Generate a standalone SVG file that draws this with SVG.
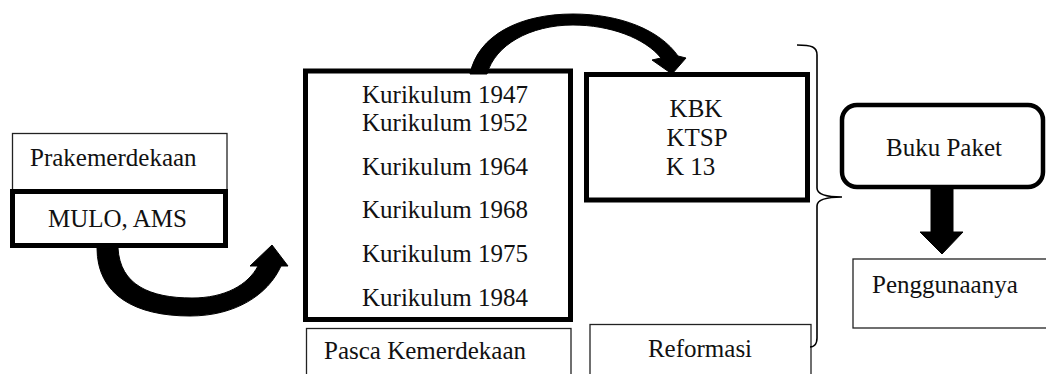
<svg xmlns="http://www.w3.org/2000/svg" width="1046" height="374" viewBox="0 0 1046 374">
<style>
text{font-family:"Liberation Serif","Times New Roman",serif;font-size:25px;fill:#111}
.thin{fill:#fff;stroke:#222;stroke-width:1.3}
.thick{fill:#fff;stroke:#000;stroke-width:5}
.arrow{fill:#000;stroke:#000;stroke-width:1;stroke-linejoin:round}
.mid{text-anchor:middle}
</style>
<rect width="1046" height="374" fill="#fff"/>
<g id="prakemerdekaan">
<rect class="thin" x="12.5" y="133.5" width="214.5" height="58"/>
<text x="30" y="166">Prakemerdekaan</text>
</g>
<g id="mulo">
<rect class="thick" x="12.5" y="191.5" width="213" height="54"/>
<text x="48" y="227">MULO, AMS</text>
</g>
<g id="kurikulum">
<rect class="thick" x="305.5" y="71" width="265" height="248.5"/>
<text x="362" y="103">Kurikulum 1947</text>
<text x="362" y="131">Kurikulum 1952</text>
<text x="362" y="175">Kurikulum 1964</text>
<text x="362" y="218">Kurikulum 1968</text>
<text x="362" y="262">Kurikulum 1975</text>
<text x="362" y="306">Kurikulum 1984</text>
</g>
<g id="pasca">
<rect class="thin" x="306.5" y="328.5" width="264.5" height="60"/>
<text x="324" y="359">Pasca Kemerdekaan</text>
</g>
<g id="kbk">
<rect class="thick" x="586.5" y="74.5" width="221" height="125.5"/>
<text class="mid" x="696" y="117">KBK</text>
<text class="mid" x="697" y="146">KTSP</text>
<text x="666" y="175">K 13</text>
</g>
<g id="reformasi">
<rect class="thin" x="590" y="324.5" width="221" height="60"/>
<text class="mid" x="700" y="357">Reformasi</text>
</g>
<g id="bracket">
<path d="M797,45 C812,45 817,47 817,55 L817,188 C817,194 825,197 842,197 C825,197 817,200 817,206 L817,338 C817,345 813,347 810,347" fill="none" stroke="#000" stroke-width="1.6"/>
</g>
<g id="bukupaket">
<rect x="842" y="105" width="201" height="82" rx="15" ry="15" fill="#fff" stroke="#000" stroke-width="4.5"/>
<text class="mid" x="944" y="156">Buku Paket</text>
</g>
<g id="penggunaanya">
<rect class="thin" x="853" y="259" width="195" height="69"/>
<text x="872" y="293">Penggunaanya</text>
</g>
<g id="connectors">
<path class="arrow" d="M97,248 C97,295 135,316 190,316 C235,316 268,295 281,266 L288,266 L272,245 L250,266 L258,266 C248,285 225,298 192,298 C150,298 120,285 118,248 Z"/>
<path class="arrow" d="M470,74 C478,35 520,14 573,14 C620,14 660,30 678,56 L686,58 L672,74 L652,60 L661,58 C645,38 610,25 573,25 C530,25 495,45 487,74 Z"/>
<path class="arrow" d="M931,187 L953,187 L953,232 L963,232 L942,254 L920,232 L931,232 Z"/>
</g>
</svg>
